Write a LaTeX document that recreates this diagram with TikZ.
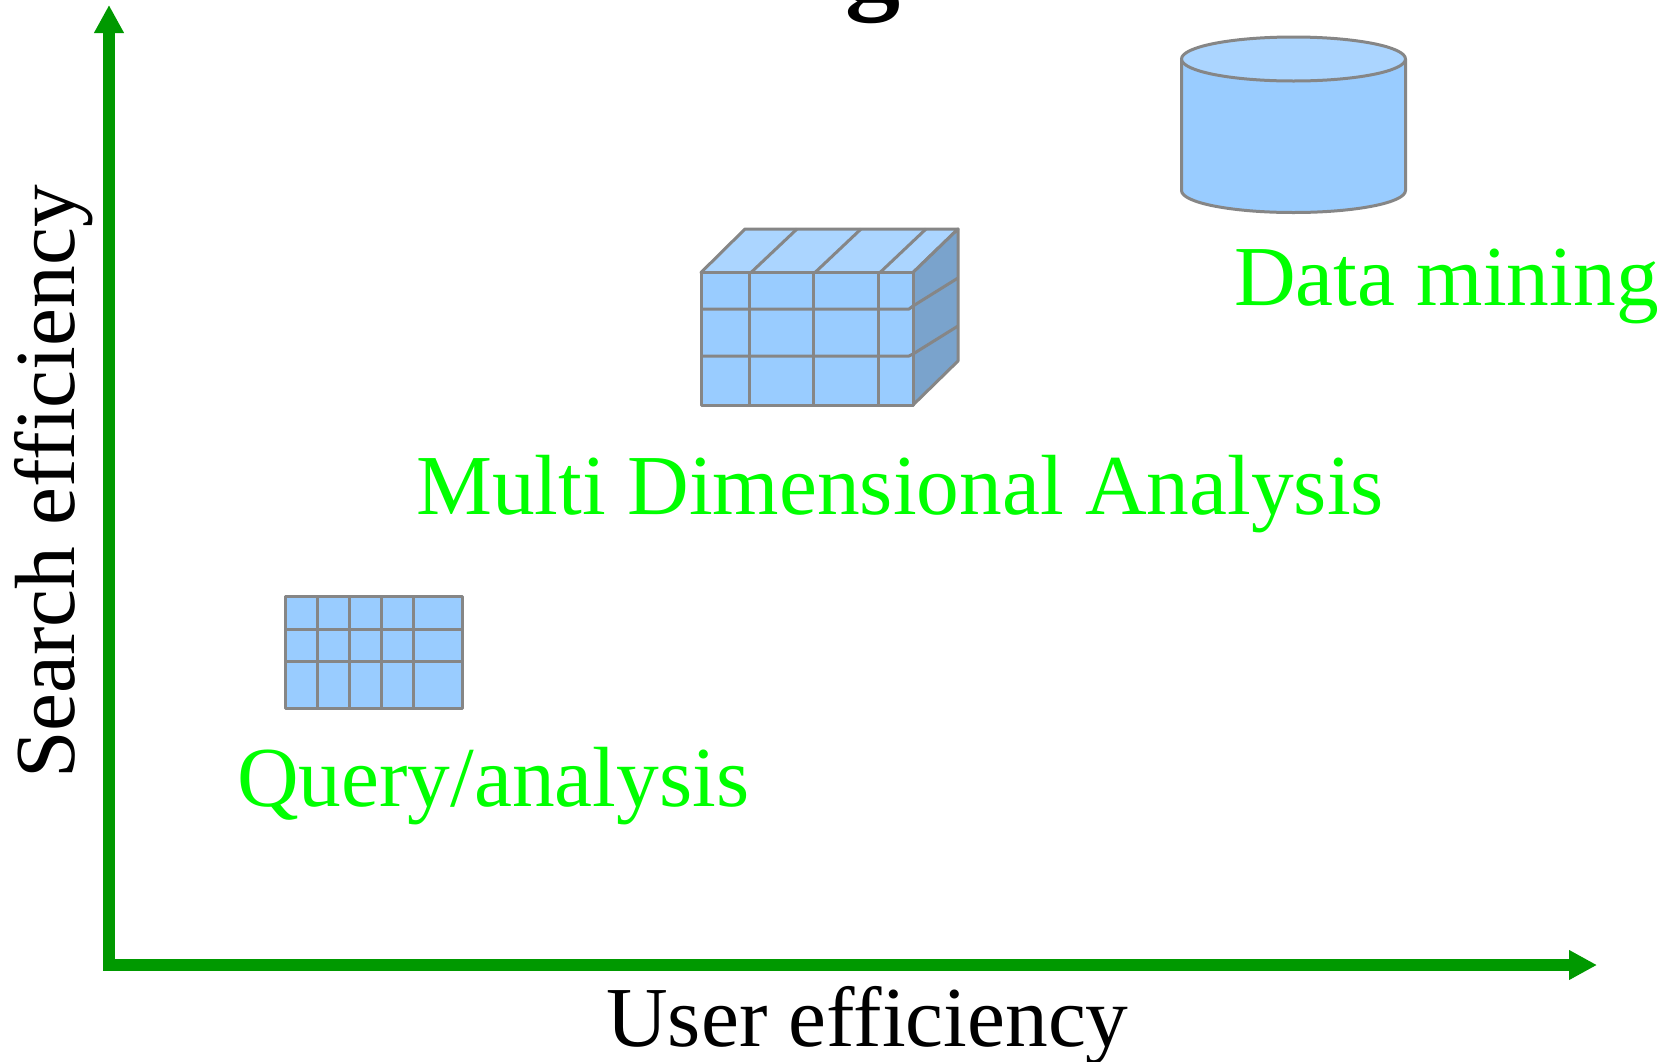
\documentclass[tikz,border=0pt]{standalone}
\usepackage{fontspec}
\setmainfont{Liberation Serif}
\usetikzlibrary{arrows.meta}
\definecolor{axisgreen}{HTML}{009900}
\definecolor{labelgreen}{HTML}{00FF00}
\definecolor{bodyblue}{HTML}{99CCFF}
\definecolor{topblue}{HTML}{ABD5FF}
\definecolor{sideblue}{HTML}{7AA3CC}
\definecolor{edgegray}{HTML}{868686}
\tikzset{
  axisline/.style={line width=12pt,draw=axisgreen,line join=miter,{Triangle[length=28pt,width=28pt]}-{Triangle[length=28pt,width=28pt]}},
  edge/.style={draw=edgegray,line width=3pt,line join=round},
  greenlabel/.style={anchor=base west,inner sep=0pt,text=labelgreen,font=\fontsize{85.4}{85.4}\selectfont},
  blacklabel/.style={anchor=base west,inner sep=0pt,text=black,font=\fontsize{85.4}{85.4}\selectfont}
}
\begin{document}
\begin{tikzpicture}[x=1pt,y=-1pt]
\useasboundingbox (0,0) rectangle (1671,1061);
\fill[white] (0,0) rectangle (1671,1061);
\begin{scope}
\clip (0,0) rectangle (1671,1061);
\node[anchor=base,inner sep=0pt,font=\fontsize{110}{110}\selectfont\bfseries] (titleg) at (873,-1) {g};
\end{scope}
% axes
\coordinate (ytip) at (109,5);
\coordinate (origin) at (109,965);
\coordinate (xtip) at (1597,965);
\draw[axisline] (ytip) -- (origin) -- (xtip);
% cylinder
\path[edge,fill=bodyblue] (1181.5,59) -- (1181.5,190.5) arc[start angle=180,end angle=360,x radius=112,y radius=-22] -- (1405.5,59) -- cycle;
\path[edge,fill=topblue] (1293.5,59) ellipse[x radius=112,y radius=22];
% cube
\path[edge,fill=topblue] (701,272.5) -- (745,229) -- (958,229) -- (913,272.5) -- cycle;
\path[edge,fill=sideblue] (913,272.5) -- (958,229) -- (958,361) -- (913,405) -- cycle;
\path[edge,fill=bodyblue] (701,272.5) rectangle (913,405);
\draw[edge] (749,272.5) -- (749,405) (813,272.5) -- (813,405) (878,272.5) -- (878,405);
\draw[edge] (701,309) -- (909,309) -- (913,306) -- (958,278);
\draw[edge] (701,356) -- (909,356) -- (913,354) -- (958,326);
\draw[edge] (751,272.5) -- (797,229) (815,272.5) -- (861,229) (880,272.5) -- (926,229);
% table
\path[edge,fill=bodyblue] (285,596.5) rectangle (462,708.5);
\draw[edge] (317,596.5) -- (317,708.5) (349,596.5) -- (349,708.5) (381,596.5) -- (381,708.5) (413,596.5) -- (413,708.5);
\draw[edge] (285,629) -- (462,629) (285,661) -- (462,661);
% labels
\node[greenlabel] (mining) at (1234,305) {Data mining};
\node[greenlabel] (mda) at (416,514) {Multi Dimensional Analysis};
\node[greenlabel] (query) at (237,806) {Query/analysis};
\node[blacklabel] (xlab) at (606,1046) {User efficiency};
\node[blacklabel,rotate=90] (ylab) at (74,779) {Search efficiency};
\end{tikzpicture}
\end{document}
